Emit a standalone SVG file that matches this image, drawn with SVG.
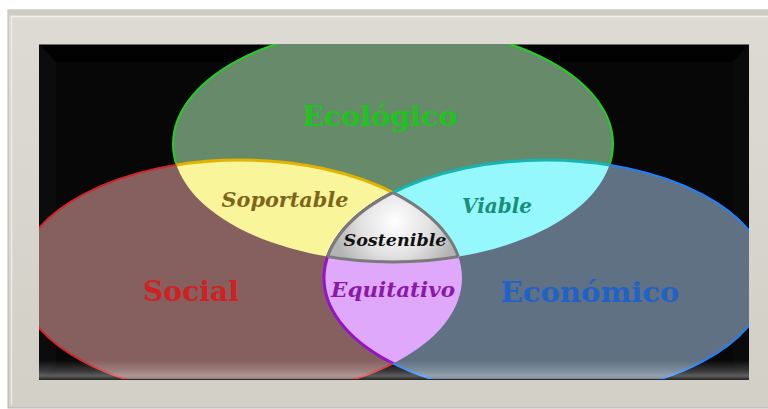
<svg xmlns="http://www.w3.org/2000/svg" width="768" height="409" viewBox="0 0 768 409">
<style>
.lbl{font-family:"DejaVu Serif","Liberation Serif",serif;font-weight:bold;text-anchor:middle}
.it{font-style:italic}
</style>
<defs>
<linearGradient id="frameG" x1="0" y1="0" x2="0" y2="1">
<stop offset="0" stop-color="#dedbd4"/><stop offset="1" stop-color="#d2cfc7"/>
</linearGradient>
<radialGradient id="grayG" cx="395" cy="222" r="62" gradientUnits="userSpaceOnUse">
<stop offset="0" stop-color="#ffffff"/><stop offset="0.55" stop-color="#e2e2e2"/><stop offset="1" stop-color="#b4b4b4"/>
</radialGradient>
<linearGradient id="gloss" x1="0" y1="360" x2="0" y2="380" gradientUnits="userSpaceOnUse">
<stop offset="0" stop-color="#ffffff" stop-opacity="0"/>
<stop offset="0.55" stop-color="#ffffff" stop-opacity="0.2"/>
<stop offset="0.8" stop-color="#ffffff" stop-opacity="0.35"/>
<stop offset="1" stop-color="#ffffff" stop-opacity="0.1"/>
</linearGradient>
<clipPath id="panel"><rect x="39" y="44" width="710" height="336"/></clipPath>
<clipPath id="cG"><ellipse cx="393" cy="144" rx="220" ry="118"/></clipPath>
<clipPath id="cR"><ellipse cx="240" cy="278" rx="222" ry="118"/></clipPath>
<clipPath id="cB"><ellipse cx="546" cy="278" rx="222" ry="118"/></clipPath>
</defs>

<rect x="0" y="0" width="768" height="409" fill="#ffffff"/>
<g id="frame">
<rect x="8" y="10" width="770" height="398" fill="url(#frameG)" stroke="#b9b6af" stroke-width="1"/>
<rect x="8.5" y="10.5" width="770" height="5" fill="#cfccc5"/>
<line x1="11" y1="16.5" x2="768" y2="16.5" stroke="#f3f1ec" stroke-width="1.5"/>
<line x1="11.5" y1="16" x2="11.5" y2="405" stroke="#ebe9e3" stroke-width="1.5"/>
</g>

<g id="panelbg">
<rect x="39" y="44" width="710" height="336" fill="#070707"/>
<polygon points="39,44 749,44 733,62 56,62" fill="#020202"/>
<polygon points="39,44 56,62 56,364 39,380" fill="#0c0c0c"/>
<polygon points="749,44 733,62 733,364 749,380" fill="#0a0a0a"/>
<line x1="39" y1="44.5" x2="749" y2="44.5" stroke="#6a6a66" stroke-width="1"/>
</g>

<g clip-path="url(#panel)">
<g id="ecologico">
<ellipse cx="393" cy="144" rx="220" ry="118" fill="#678a6b" stroke="#22d022" stroke-width="2"/>
</g>
<g id="social">
<ellipse cx="240" cy="278" rx="222" ry="118" fill="#85605e" stroke="#d02828" stroke-width="2"/>
</g>
<g id="economico">
<ellipse cx="546" cy="278" rx="222" ry="118" fill="#5f7183" stroke="#1e82ff" stroke-width="2"/>
</g>
<g id="soportable" clip-path="url(#cG)">
<ellipse cx="240" cy="278" rx="222" ry="118" fill="#f8f59a" stroke="#e2b400" stroke-width="3"/>
</g>
<g id="viable" clip-path="url(#cG)">
<ellipse cx="546" cy="278" rx="222" ry="118" fill="#94f8fc" stroke="#18b4b0" stroke-width="3"/>
</g>
<g id="equitativo" clip-path="url(#cR)">
<ellipse cx="546" cy="278" rx="222" ry="118" fill="#e0a8fb" stroke="#9414c8" stroke-width="3"/>
</g>
<g id="sostenible" clip-path="url(#cR)">
<g clip-path="url(#cG)">
<ellipse cx="546" cy="278" rx="222" ry="118" fill="url(#grayG)" stroke="#7a7a7a" stroke-width="3"/>
</g>
<g clip-path="url(#cB)">
<ellipse cx="393" cy="144" rx="220" ry="118" fill="none" stroke="#7a7a7a" stroke-width="3"/>
<ellipse cx="240" cy="278" rx="222" ry="118" fill="none" stroke="#7a7a7a" stroke-width="0"/>
</g>
</g>
<g id="sostenible-edge" clip-path="url(#cB)">
<g clip-path="url(#cG)">
<ellipse cx="240" cy="278" rx="222" ry="118" fill="none" stroke="#7a7a7a" stroke-width="3"/>
</g>
</g>
<polygon points="39,360 749,360 749,380 39,380" fill="url(#gloss)"/>
<line x1="39" y1="379.5" x2="749" y2="379.5" stroke="#2a2a2a" stroke-width="1"/>
</g>

<g id="labels">
<text class="lbl" x="380" y="126" font-size="27" fill="#1ec41e" textLength="155" lengthAdjust="spacingAndGlyphs">Ecológico</text>
<text class="lbl" x="191" y="301" font-size="27" fill="#d21f22" textLength="96" lengthAdjust="spacingAndGlyphs">Social</text>
<text class="lbl" x="590" y="302" font-size="27" fill="#1f62c8" textLength="179" lengthAdjust="spacingAndGlyphs">Económico</text>
<text class="lbl it" x="285" y="207" font-size="21" fill="#7f651a" textLength="127" lengthAdjust="spacingAndGlyphs">Soportable</text>
<text class="lbl it" x="497" y="213" font-size="20" fill="#1a8f78" textLength="70" lengthAdjust="spacingAndGlyphs">Viable</text>
<text class="lbl it" x="395" y="246" font-size="17" fill="#111111" textLength="103" lengthAdjust="spacingAndGlyphs">Sostenible</text>
<text class="lbl it" x="393" y="297" font-size="21" fill="#8a1aa6" textLength="124" lengthAdjust="spacingAndGlyphs">Equitativo</text>
</g>
</svg>
